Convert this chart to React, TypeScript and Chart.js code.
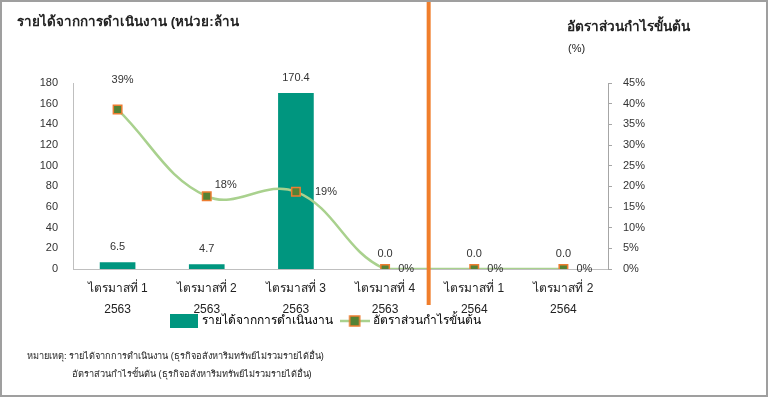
import React, { useEffect, useRef } from "react";
import { Chart, registerables } from "chart.js";

Chart.register(...registerables);

const quarters = ["ไตรมาสที่ 1", "ไตรมาสที่ 2", "ไตรมาสที่ 3", "ไตรมาสที่ 4", "ไตรมาสที่ 1", "ไตรมาสที่ 2"];
const years = ["2563", "2563", "2563", "2563", "2564", "2564"];
const revenue = [6.5, 4.7, 170.4, 0, 0, 0];
const grossMargin = [38.6, 17.6, 18.7, 0, 0, 0];
const leftTicks = [0, 20, 40, 60, 80, 100, 120, 140, 160, 180];
const rightTicks = [0, 5, 10, 15, 20, 25, 30, 35, 40, 45];

const revenueLabel = "รายได้จากการดำเนินงาน";
const marginLabel = "อัตราส่วนกำไรขั้นต้น";

const TEAL = "#00967f";
const LINE_GREEN = "#a9d18e";
const POINT_GREEN = "#548235";
const ORANGE = "#ed7d31";
const FONT = "'Liberation Sans', Arial, 'Noto Sans', sans-serif";

// label offsets for margin labels (styling)
const marginLabelOffsets = [[5, -29], [19, -11], [30, 0], [21, 0], [21, 0], [21, 0]];

function makeBarIcon() {
  const c = document.createElement("canvas");
  c.width = 28; c.height = 14;
  const g = c.getContext("2d")!;
  g.fillStyle = TEAL;
  g.fillRect(0, 0, 28, 14);
  return c;
}
function makeLineIcon() {
  const c = document.createElement("canvas");
  c.width = 30; c.height = 14;
  const g = c.getContext("2d")!;
  g.strokeStyle = LINE_GREEN; g.lineWidth = 2.5;
  g.beginPath(); g.moveTo(0, 7); g.lineTo(30, 7); g.stroke();
  g.fillStyle = POINT_GREEN; g.fillRect(10, 2, 10, 10);
  g.strokeStyle = ORANGE; g.lineWidth = 1.5; g.strokeRect(10, 2, 10, 10);
  return c;
}

const labelsPlugin = {
  id: "customLabels",
  afterLayout(chart: any) {
    const lg = chart.legend;
    if (lg) { lg.left -= 14; lg.right -= 14; }
    const x2 = chart.scales.x2;
    if (x2) { x2.bottom += 8; }
  },
  afterDatasetsDraw(chart: any) {
    const ctx = chart.ctx;
    ctx.save();
    ctx.font = `11px ${FONT}`;
    ctx.fillStyle = "#333";
    ctx.textAlign = "center";
    ctx.textBaseline = "middle";
    const barMeta = chart.getDatasetMeta(0);
    barMeta.data.forEach((el: any, i: number) => {
      ctx.fillText(revenue[i].toFixed(1), el.x, el.y - 15);
    });
    const lineMeta = chart.getDatasetMeta(1);
    lineMeta.data.forEach((el: any, i: number) => {
      const [dx, dy] = marginLabelOffsets[i];
      ctx.fillText(Math.round(grossMargin[i]) + "%", el.x + dx, el.y + dy);
    });
    ctx.restore();
  },
  afterDraw(chart: any) {
    const ctx = chart.ctx;
    const xs = chart.scales.x;
    const x = (xs.getPixelForValue(3) + xs.getPixelForValue(4)) / 2 - 1;
    ctx.save();
    ctx.strokeStyle = "#f07e2c";
    ctx.lineWidth = 4;
    ctx.beginPath();
    ctx.moveTo(x, 2);
    ctx.lineTo(x, 305);
    ctx.stroke();
    ctx.restore();
  },
};

export default function App() {
  const ref = useRef<HTMLCanvasElement>(null);
  useEffect(() => {
    const barIcon = makeBarIcon();
    const lineIcon = makeLineIcon();
    const chart = new Chart(ref.current!, {
      type: "bar",
      data: {
        labels: quarters,
        datasets: [
          {
            type: "bar",
            label: revenueLabel,
            data: revenue,
            backgroundColor: TEAL,
            barPercentage: 0.4,
            categoryPercentage: 1,
            yAxisID: "y",
            order: 2,
          },
          {
            type: "line",
            label: marginLabel,
            data: grossMargin,
            borderColor: LINE_GREEN,
            borderWidth: 2.5,
            tension: 0.4,
            pointStyle: "rect",
            pointRadius: 6,
            pointBackgroundColor: POINT_GREEN,
            pointBorderColor: ORANGE,
            pointBorderWidth: 1.5,
            yAxisID: "y1",
            order: 1,
          } as any,
        ],
      },
      options: {
        animation: false,
        responsive: false,
        layout: { padding: { top: 83, left: 0, right: 0, bottom: 60 } },
        plugins: {
          tooltip: { enabled: false },
          legend: {
            position: "bottom",
            fullSize: false,
            labels: {
              usePointStyle: true,
              pointStyleWidth: 24,
              boxHeight: 14,
              padding: 6,
              color: "#222",
              font: { size: 12, family: FONT },
              generateLabels: () => [
                { text: revenueLabel + " ", pointStyle: barIcon, fillStyle: TEAL, strokeStyle: TEAL, lineWidth: 0, hidden: false, datasetIndex: 0 },
                { text: marginLabel, pointStyle: lineIcon, fillStyle: TEAL, strokeStyle: TEAL, lineWidth: 0, hidden: false, datasetIndex: 1 },
              ] as any,
            },
          },
        },
        scales: {
          x: {
            weight: 0,
            grid: { display: false, drawTicks: false },
            border: { display: true, color: "#bfbfbf", width: 1 },
            ticks: {
              color: "#222",
              font: { size: 12, family: FONT },
              padding: 12,
              maxRotation: 0,
              autoSkip: false,
            },
            afterFit: (s: any) => { s.height = 28; },
          },
          x2: {
            type: "category",
            position: "bottom",
            weight: 1,
            labels: years,
            offset: true,
            grid: { display: false, drawTicks: false },
            border: { display: false },
            ticks: {
              color: "#222",
              font: { size: 12, family: FONT },
              padding: 5,
              maxRotation: 0,
              autoSkip: false,
            },
            afterFit: (s: any) => { s.height = 12; },
          },
          y: {
            position: "left",
            min: 0,
            max: 180,
            afterBuildTicks: (s: any) => { s.ticks = leftTicks.map((v) => ({ value: v })); },
            grid: { display: false, drawTicks: false },
            border: { display: true, color: "#bfbfbf", width: 1 },
            ticks: { color: "#333", font: { size: 11, family: FONT }, padding: 15 },
            afterFit: (s: any) => { s.width = 73; },
          },
          y1: {
            position: "right",
            min: 0,
            max: 45,
            afterBuildTicks: (s: any) => { s.ticks = rightTicks.map((v) => ({ value: v })); },
            grid: { display: true, drawOnChartArea: false, drawTicks: true, tickLength: 4, color: "#a6a6a6" },
            border: { display: true, color: "#a6a6a6", width: 1 },
            ticks: { color: "#333", font: { size: 11, family: FONT }, padding: 11, callback: (v: any) => v + "%" },
            afterFit: (s: any) => { s.width = 160; },
          },
        },
      } as any,
      plugins: [labelsPlugin],
    });
    return () => chart.destroy();
  }, []);

  const txt = (style: React.CSSProperties, s: string) => (
    <div style={{ position: "absolute", whiteSpace: "nowrap", color: "#222", fontFamily: FONT, lineHeight: 1, ...style }}>{s}</div>
  );

  return (
    <div style={{ position: "absolute", left: 0, top: 0, width: 768, height: 397, background: "#fff" }}>
      <div style={{ position: "absolute", left: 0, top: 0, width: 768, height: 397, boxSizing: "border-box", border: "2px solid #9f9f9f" }} />
      <canvas ref={ref} width={768} height={397} style={{ position: "absolute", left: 0, top: 0, width: 768, height: 397 }} />
      {txt({ left: 17, top: 15, fontSize: 13.4, fontWeight: "bold" }, "รายได้จากการดำเนินงาน (หน่วย:ล้าน")}
      {txt({ left: 567, top: 20, fontSize: 13.6, fontWeight: "bold" }, "อัตราส่วนกำไรขั้นต้น")}
      {txt({ left: 568, top: 43, fontSize: 11 }, "(%)")}
      {txt({ left: 27, top: 352, fontSize: 9.2 }, "หมายเหตุ: รายได้จากการดำเนินงาน (ธุรกิจอสังหาริมทรัพย์ไม่รวมรายได้อื่น)")}
      {txt({ left: 72, top: 370, fontSize: 9.2 }, "อัตราส่วนกำไรขั้นต้น (ธุรกิจอสังหาริมทรัพย์ไม่รวมรายได้อื่น)")}
    </div>
  );
}
